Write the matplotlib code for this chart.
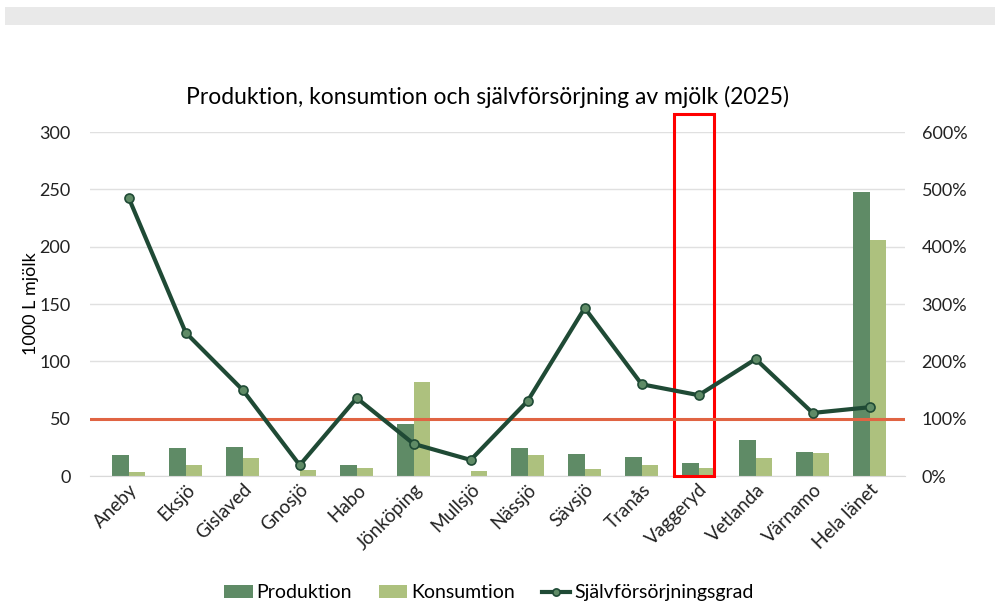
import matplotlib.pyplot as plt
import numpy as np
from matplotlib.patches import Rectangle
from matplotlib.ticker import FuncFormatter

plt.rcParams['font.family'] = ['Lato', 'DejaVu Sans']

kommuner = ['Aneby', 'Eksjö', 'Gislaved', 'Gnosjö', 'Habo', 'Jönköping', 'Mullsjö',
            'Nässjö', 'Sävsjö', 'Tranås', 'Vaggeryd', 'Vetlanda', 'Värnamo', 'Hela länet']
produktion = [18, 24, 25, 0, 9.5, 45, 0, 24, 19, 17, 11, 31, 21, 248]
konsumtion = [3.5, 10, 16, 5, 7, 82, 4, 18, 6, 10, 7, 16, 20, 206]
grad = [485, 250, 150, 19, 136, 56, 28, 131, 293, 160, 141, 204, 110, 120]  # procent

c_prod = '#5f8b66'
c_kons = '#adc17e'
c_linje = '#1f4a35'

fig = plt.figure(figsize=(10, 6.05), dpi=100)
# grå list överst (skärmbild)
fig.patches.append(Rectangle((0.005, 0.959), 0.99, 0.03, transform=fig.transFigure,
                             facecolor='#e9e9e9', edgecolor='none'))

ax = fig.add_axes([0.09, 0.2132, 0.815, 0.5686])
x = np.arange(len(kommuner))
w = 0.29
ax.bar(x - w / 2, produktion, w, color=c_prod, label='Produktion', zorder=2)
ax.bar(x + w / 2, konsumtion, w, color=c_kons, label='Konsumtion', zorder=2)
ax.set_ylim(0, 300)
ax.set_xlim(-0.68, len(kommuner) - 0.38)
ax.set_yticks(range(0, 301, 50))
ax.grid(axis='y', color='#e0e0e0', lw=1, zorder=0)
ax.set_axisbelow(True)
for s in ['top', 'right', 'left']:
    ax.spines[s].set_visible(False)
ax.spines['bottom'].set_color('#d9d9d9')
ax.tick_params(axis='both', length=0, labelsize=13, colors='#222222')
ax.tick_params(axis='y', pad=14)
ax.set_xticks(x)
ax.set_xticklabels(kommuner, rotation=45, ha='right', rotation_mode='anchor', fontsize=13.5)
ax.set_ylabel('1000 L mjölk', fontsize=13, labelpad=-2)
ax.yaxis.set_label_coords(-0.062, 0.5)

ax2 = ax.twinx()
ax2.set_ylim(0, 600)
ax2.set_yticks(range(0, 601, 100))
ax2.yaxis.set_major_formatter(FuncFormatter(lambda v, p: f'{int(v)}%'))
for s in ax2.spines.values():
    s.set_visible(False)
ax2.tick_params(axis='y', length=0, labelsize=13, colors='#222222', pad=12)
ax2.axhline(100, color='#e06443', lw=2.2, zorder=3)
ax2.plot(x, grad, color=c_linje, lw=3, marker='o', ms=6.5, mfc=c_prod, mec=c_linje,
         mew=1.2, label='Självförsörjningsgrad', zorder=4)

# röd markering runt Vaggeryd
ax.add_patch(Rectangle((10 - 0.44, 0), 0.7, 316, fill=False, edgecolor='#ff0000',
                       lw=2.2, clip_on=False, zorder=5))

fig.text(0.487, 0.84, 'Produktion, konsumtion och självförsörjning av mjölk (2025)',
         ha='center', va='center', fontsize=16.5)

h1, l1 = ax.get_legend_handles_labels()
h2, l2 = ax2.get_legend_handles_labels()
fig.legend(h1 + h2, l1 + l2, loc='center', bbox_to_anchor=(0.489, 0.02), ncol=3,
           frameon=False, fontsize=14, handlelength=1.45, handleheight=0.6,
           columnspacing=1.4, handletextpad=0.2, markerscale=0.8)

fig.savefig('out.png', dpi=100, facecolor='white')
